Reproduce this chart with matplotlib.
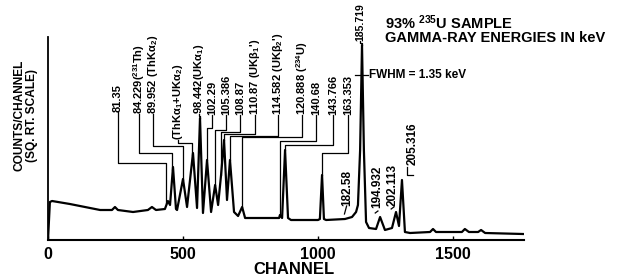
import matplotlib
matplotlib.use("Agg")
import matplotlib.pyplot as plt

plt.rcParams.update({
    "font.family": "Liberation Sans",
    "font.weight": "bold",
    "mathtext.fontset": "custom",
    "mathtext.rm": "Liberation Sans:bold",
    "mathtext.it": "Liberation Sans:bold",
    "mathtext.bf": "Liberation Sans:bold",
    "mathtext.default": "rm",
})

# spectrum: channel vs counts (sq. root scale, arbitrary units)
channel = [0, 7, 15, 81, 193, 237, 248, 259, 315, 370, 385, 400, 433, 444, 452,
           463, 474, 478, 500, 515, 537, 552, 563, 574, 589, 604, 619, 630, 641,
           652, 663, 674, 689, 704, 719, 730, 856, 859, 867, 878, 889, 900, 1000,
           1007, 1015, 1022, 1030, 1100, 1126, 1141, 1148, 1156, 1163, 1170, 1178,
           1189, 1215, 1230, 1248, 1274, 1289, 1300, 1311, 1322, 1341, 1415, 1426,
           1437, 1533, 1544, 1559, 1593, 1604, 1619, 1759]
counts = [0, 38, 39, 36, 30, 30, 33, 30, 28, 30, 33, 30, 31, 39, 35,
          73, 31, 30, 61, 33, 87, 32, 122, 27, 80, 28, 55, 35, 65,
          100, 40, 80, 28, 24, 33, 22, 22, 25, 22, 90, 22, 20, 20,
          21, 65, 21, 20, 21, 23, 28, 35, 90, 195, 90, 18,
          12, 11, 23, 10, 12, 28, 14, 60, 8, 7, 8, 11,
          8, 8, 11, 8, 8, 10, 7, 6]

# peak labels above the spectrum, with elbow leaders down to the peaks
lab_text = ["81.35", "84.229($^{231}$Th)", "89.952 (ThKα$_2$)", "(ThKα$_1$+UKα$_2$)",
            "98.442(UKα$_1$)", "102.29", "105.386", "108.87", "110.87 (UKβ$_1$')",
            "114.582 (UKβ$_2$')", "120.888 ($^{234}$U)", "140.68", "143.766",
            "163.353", "185.719"]
lab_ch = [259, 337, 389, 482, 559, 607, 659, 711, 767, 852, 941, 993, 1056, 1111, 1156]
lab_base = [128, 126, 126, 100, 126, 125, 125, 125, 125, 125, 125, 125, 125, 125, 199]
lab_bend = [77, 87, 94, 97, 124, 112, 110, 108, 106, 104, 103, 99, 95, 87, 197]
peak_ch = [437, 459, 500, 533, 563, 589, 619, 641, 652, 674, 719, 859, 878, 1015, 1163]
peak_h = [37, 70, 60, 85, 122, 80, 55, 65, 100, 80, 33, 25, 90, 65, 195]
lab_size = [8] * 14 + [7.5]

# labels below, beside the peaks
low_text = ["182.58", "194.932", "202.113", "205.316"]
low_ch = [1107, 1219, 1278, 1352]
low_base = [34, 32, 34, 75]

fig = plt.figure(figsize=(6.24, 2.79), dpi=100)
ax = fig.add_axes([48 / 624, 39 / 279, 476 / 624, 240 / 279])

ax.plot(channel, counts, color="black", linewidth=1.6, solid_joinstyle="round")

for t, x, b, e, px, ph, fs in zip(lab_text, lab_ch, lab_base, lab_bend, peak_ch, peak_h, lab_size):
    ax.plot([x, x, px, px], [b, e, e, ph], color="black", linewidth=0.9)
    ax.text(x, b, t, rotation=90, ha="center", va="bottom", fontsize=fs)

for t, x, b in zip(low_text, low_ch, low_base):
    ax.text(x, b, t, rotation=90, ha="center", va="bottom", fontsize=8.5)

# little leader ticks for the lower labels
ax.plot([1098, 1106], [26, 34], color="black", linewidth=0.9)
ax.plot([1212, 1222], [27, 29], color="black", linewidth=0.9)
ax.plot([1271, 1281], [31, 33], color="black", linewidth=0.9)
ax.plot([1330, 1330, 1352], [73, 65, 65], color="black", linewidth=0.9)

# FWHM marker on the big peak
ax.plot([1137, 1185], [165, 165], color="black", linewidth=0.9)
ax.text(1190, 165, "FWHM = 1.35 keV", ha="left", va="center", fontsize=8.5)

ax.text(1250, 217, "93% $^{235}$U SAMPLE", ha="left", va="center", fontsize=10.5)
ax.text(1250, 202, "GAMMA-RAY ENERGIES IN keV", ha="left", va="center", fontsize=10.5)

ax.set_xlim(0, 1763)
ax.set_ylim(0, 240)
ax.set_xticks([0, 500, 1000, 1500])
ax.set_yticks([])
ax.tick_params(axis="x", direction="in", length=3, width=1, pad=5, labelsize=11.5)

for side in ["top", "right"]:
    ax.spines[side].set_visible(False)
ax.spines["left"].set_bounds(0, 203)
ax.spines["left"].set_linewidth(1.3)
ax.spines["bottom"].set_linewidth(1.5)
ax.patch.set_alpha(0)

fig.text(294 / 624, 1 - 270 / 279, "CHANNEL", ha="center", va="center", fontsize=12)
fig.text(26 / 624, 1 - 115 / 279, "COUNTS/CHANNEL\n(SQ. RT. SCALE)", rotation=90,
         ha="center", va="center", multialignment="center", fontsize=8.6,
         linespacing=1.1)

fig.savefig("out.png", dpi=100)
